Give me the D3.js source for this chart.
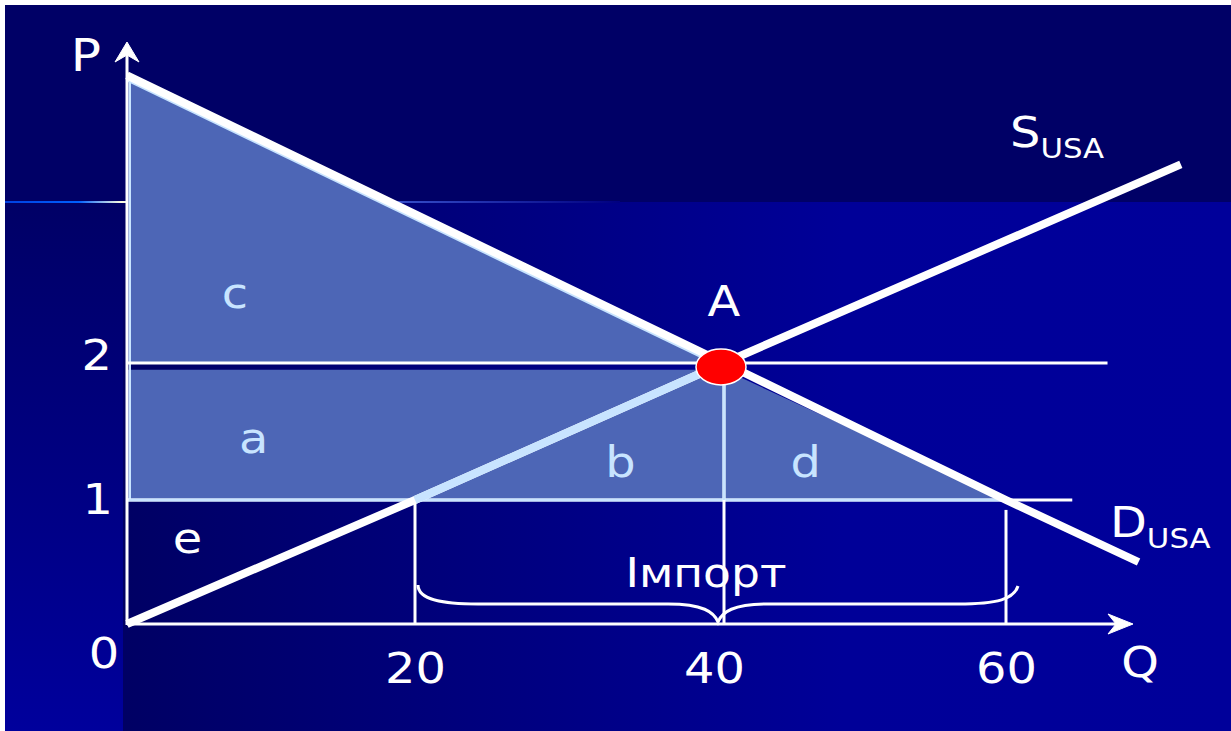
<!DOCTYPE html>
<meta charset="utf-8">
<script src="https://d3js.org/d3.v7.min.js"></script>
<style>
  body { margin: 0; background: #fff; }
  text { font-family: "DejaVu Sans", Verdana, sans-serif; }
</style>
<div id="chart"></div>
<script>
// quantity / price break points
const qTicks = [20, 40, 60];
const pTicks = [1, 2];

// curves, in [Q, P]
const demand = [[0, 4.1], [40, 2], [60, 1], [69.4, 0.5]];
const supply = [[0, 0], [20, 1], [40, 2], [72.4, 3.45]];

// shaded surplus areas
const areaC = [[0, 4.1], [40, 2], [0, 2]];
const areaABD = [[0, 1.95], [40, 1.95], [60, 1], [0, 1]];

// price levels and quantity drops
const priceLines = [{p: 2, q0: 0, q1: 67.2}, {p: 1, q0: 0, q1: 64.7}];
const qDrops = [{q: 20, p: 1}, {q: 40, p: 2}, {q: 60, p: 0.92}];

// area letters
const areaLabels = [
  {t: "c", q: 7.5, p: 2.4, light: true},
  {t: "a", q: 8.8, p: 1.34, light: true},
  {t: "b", q: 33.3, p: 1.17, light: true},
  {t: "d", q: 45.8, p: 1.17, light: true},
  {t: "e", q: 4.2, p: 0.57, light: false}
];

const W = 1231, H = 731;
const svg = d3.select("#chart").append("svg")
  .attr("width", W).attr("height", H);

// scales (piecewise, as the drawing is not quite even)
const x = d3.scaleLinear().domain([0, 20, 40, 60]).range([127, 415, 724, 1006]);
const y = d3.scaleLinear().domain([0, 1, 2]).range([624, 500, 363]);

const defs = svg.append("defs");
const g1 = defs.append("linearGradient").attr("id", "bgRight")
  .attr("x1", 0).attr("y1", 0).attr("x2", 1).attr("y2", 0);
g1.append("stop").attr("offset", "0%").attr("stop-color", "#000064");
g1.append("stop").attr("offset", "65%").attr("stop-color", "#000098");
g1.append("stop").attr("offset", "100%").attr("stop-color", "#00009a");
const g2 = defs.append("linearGradient").attr("id", "bgLeft")
  .attr("x1", 0).attr("y1", 0).attr("x2", 0).attr("y2", 1);
g2.append("stop").attr("offset", "0%").attr("stop-color", "#000066");
g2.append("stop").attr("offset", "100%").attr("stop-color", "#00009c");
const g3 = defs.append("linearGradient").attr("id", "glow")
  .attr("gradientUnits", "userSpaceOnUse")
  .attr("x1", 5).attr("y1", 0).attr("x2", 620).attr("y2", 0);
g3.append("stop").attr("offset", "0%").attr("stop-color", "#0040e0");
g3.append("stop").attr("offset", "12%").attr("stop-color", "#0060ff");
g3.append("stop").attr("offset", "19%").attr("stop-color", "#ffffe0");
g3.append("stop").attr("offset", "27%").attr("stop-color", "#4a90ff");
g3.append("stop").attr("offset", "60%").attr("stop-color", "#3b55d0");
g3.append("stop").attr("offset", "100%").attr("stop-color", "#000080");

// background
svg.append("rect").attr("x", 5).attr("y", 5).attr("width", W - 5).attr("height", 197).attr("fill", "#000066");
svg.append("rect").attr("x", 123).attr("y", 202).attr("width", W - 123).attr("height", H - 202).attr("fill", "url(#bgRight)");
svg.append("rect").attr("x", 5).attr("y", 202).attr("width", 118).attr("height", H - 202).attr("fill", "url(#bgLeft)");
svg.append("line").attr("x1", 5).attr("x2", 620).attr("y1", 202).attr("y2", 202)
  .attr("stroke", "url(#glow)").attr("stroke-width", 2);

const line = d3.line().x(d => x(d[0])).y(d => y(d[1]));
const shade = "#4d66b6", light = "#c8e4ff";

// shaded areas
svg.append("path").attr("d", line(areaC) + "Z").attr("fill", shade);
svg.append("path").attr("d", line(areaABD) + "Z").attr("fill", shade);

// light edges of the shaded areas
svg.append("path").attr("d", line(demand.slice(0, 2)))
  .attr("transform", "translate(0,3.5)")
  .attr("fill", "none").attr("stroke", light).attr("stroke-width", 5);
svg.append("line").attr("x1", x(0) + 3).attr("x2", x(0) + 3)
  .attr("y1", y(4.1)).attr("y2", y(1))
  .attr("stroke", light).attr("stroke-width", 2);

// price lines
priceLines.forEach(l => {
  svg.append("line")
    .attr("x1", x(l.q0)).attr("x2", x(l.q1))
    .attr("y1", y(l.p)).attr("y2", y(l.p))
    .attr("stroke", "#fff").attr("stroke-width", 3);
});
svg.append("line")
  .attr("x1", x(0)).attr("x2", x(60)).attr("y1", y(1)).attr("y2", y(1))
  .attr("stroke", light).attr("stroke-width", 3);

// quantity drops
qDrops.forEach(d => {
  svg.append("line")
    .attr("x1", x(d.q)).attr("x2", x(d.q))
    .attr("y1", y(d.p)).attr("y2", y(0))
    .attr("stroke", "#fff").attr("stroke-width", 3);
});
svg.append("line")
  .attr("x1", x(40)).attr("x2", x(40)).attr("y1", y(2)).attr("y2", y(1))
  .attr("stroke", light).attr("stroke-width", 3);

// supply & demand
svg.append("path").attr("d", line(supply))
  .attr("fill", "none").attr("stroke", "#fff").attr("stroke-width", 8);
svg.append("path").attr("d", line(supply.slice(1, 3)))
  .attr("fill", "none").attr("stroke", light).attr("stroke-width", 8);
svg.append("path").attr("d", line(demand))
  .attr("fill", "none").attr("stroke", "#fff").attr("stroke-width", 8);

// axes lines with arrows
const ax = svg.append("g").attr("fill", "#fff").attr("stroke", "#fff");
ax.append("line").attr("x1", x(0)).attr("x2", x(0)).attr("y1", y(0) + 1).attr("y2", 50)
  .attr("stroke-width", 3);
ax.append("path")
  .attr("d", `M${x(0)},42 L${x(0) + 12},62 L${x(0)},55 L${x(0) - 12},62 Z`)
  .attr("stroke-width", 1);
ax.append("line").attr("x1", x(0)).attr("x2", 1125).attr("y1", y(0)).attr("y2", y(0))
  .attr("stroke-width", 3);
ax.append("path")
  .attr("d", `M1133,${y(0)} L1108,${y(0) - 10} L1116,${y(0)} L1108,${y(0) + 10} Z`)
  .attr("stroke-width", 1);

// brace under the import quantity
const by = 604, bt = 622;
const bx0 = x(20) + 3, bx1 = x(60) + 12, bm = 718;
svg.append("path")
  .attr("d", `M${bx0},585 C${bx0},600 ${bx0 + 25},${by} ${bx0 + 60},${by}
    L${bm - 50},${by} C${bm - 15},${by} ${bm - 4},${by + 8} ${bm},${bt}
    C${bm + 4},${by + 8} ${bm + 15},${by} ${bm + 50},${by}
    L${bx1 - 60},${by} C${bx1 - 20},${by} ${bx1 - 4},${by - 5} ${bx1},586`)
  .attr("fill", "none").attr("stroke", "#fff").attr("stroke-width", 3);

// equilibrium point
svg.append("ellipse").attr("cx", x(40) - 3).attr("cy", y(2) + 4)
  .attr("rx", 25).attr("ry", 18)
  .attr("fill", "#ff0000").attr("stroke", "#fff").attr("stroke-width", 1.5);

// tick labels
const xAxis = svg.append("g").attr("transform", `translate(0,${y(0)})`)
  .call(d3.axisBottom(x).tickValues(qTicks).tickSize(0).tickPadding(29));
xAxis.select(".domain").remove();
xAxis.selectAll("text").attr("fill", "#fff").attr("font-size", 42)
  .attr("font-family", "DejaVu Sans, sans-serif")
  .attr("dx", d => d === 40 ? -10 : 0);

const yAxis = svg.append("g").attr("transform", `translate(${x(0)},0)`)
  .call(d3.axisLeft(y).tickValues(pTicks).tickFormat(d3.format("d"))
    .tickSize(0).tickPadding(15));
yAxis.select(".domain").remove();
yAxis.selectAll("text").attr("fill", "#fff").attr("font-size", 42)
  .attr("font-family", "DejaVu Sans, sans-serif")
  .attr("dx", d => d === 1 ? 1 : 0)
  .attr("dy", d => d === 1 ? "0.33em" : "0.15em");

const txt = svg.append("g").attr("fill", "#fff").attr("font-size", 42);
txt.append("text").attr("x", 104).attr("y", 668).attr("text-anchor", "middle").text("0");
txt.append("text").attr("x", 86).attr("y", 71).attr("text-anchor", "middle")
  .attr("font-size", 44).text("P");
txt.append("text").attr("x", 1140).attr("y", 677).attr("text-anchor", "middle").text("Q");
txt.append("text").attr("x", x(40)).attr("y", y(2.34)).attr("text-anchor", "middle").text("A");

// curve names
const sLab = txt.append("text").attr("x", 1010).attr("y", 147);
sLab.append("tspan").text("S");
sLab.append("tspan").attr("font-size", 27).attr("dy", 11).text("USA");
const dLab = txt.append("text").attr("x", 1110).attr("y", 537);
dLab.append("tspan").text("D");
dLab.append("tspan").attr("font-size", 27).attr("dy", 11).text("USA");

// area letters
areaLabels.forEach(d => {
  txt.append("text").attr("x", x(d.q)).attr("y", y(d.p))
    .attr("text-anchor", "middle")
    .attr("fill", d.light ? light : "#fff")
    .text(d.t);
});

txt.append("text").attr("x", 706).attr("y", y(0.3))
  .attr("text-anchor", "middle").attr("font-size", 40).text("Імпорт");

// the original lettering is a little wider than DejaVu
svg.selectAll("text").each(function() {
  const len = this.getComputedTextLength();
  d3.select(this).attr("textLength", len * 1.14).attr("lengthAdjust", "spacingAndGlyphs");
});
</script>
